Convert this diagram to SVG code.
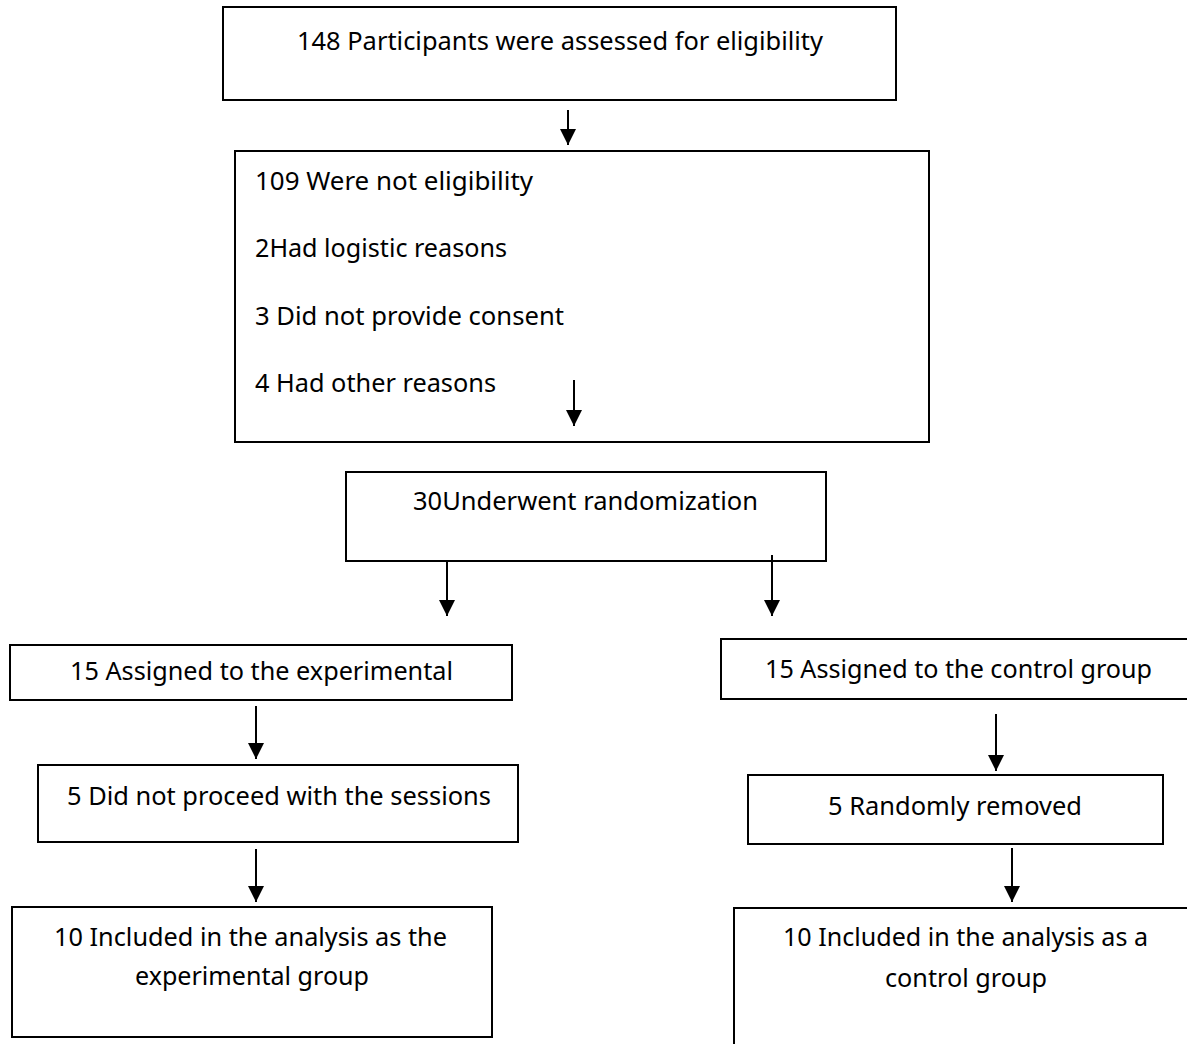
<svg xmlns="http://www.w3.org/2000/svg" width="1187" height="1044" viewBox="0 0 1187 1044">
<style>
.box{fill:#fff;stroke:#000;stroke-width:2}
.t{font-family:"Noto Sans","Open Sans",sans-serif;font-size:25px;fill:#000}
.c{stroke:#000;stroke-width:2;fill:none}
</style>
<defs>
<marker id="ah" markerUnits="userSpaceOnUse" markerWidth="18" markerHeight="18" refX="16" refY="8" orient="auto">
<path d="M0,0 L16,8 L0,16 Z" fill="#000"/>
</marker>
</defs>
<rect width="1187" height="1044" fill="#fff"/>
<g id="n1"><rect class="box" x="223" y="7" width="673" height="93"/>
<text class="t" x="297" y="50" textLength="526" lengthAdjust="spacingAndGlyphs">148 Participants were assessed for eligibility</text></g>
<g id="n2"><rect class="box" x="235" y="151" width="694" height="291"/>
<text class="t" x="255" y="190" textLength="278" lengthAdjust="spacingAndGlyphs">109 Were not eligibility</text>
<text class="t" x="255" y="257" textLength="252" lengthAdjust="spacingAndGlyphs">2Had logistic reasons</text>
<text class="t" x="255" y="325" textLength="309" lengthAdjust="spacingAndGlyphs">3 Did not provide consent</text>
<text class="t" x="255" y="392" textLength="241" lengthAdjust="spacingAndGlyphs">4 Had other reasons</text></g>
<g id="n3"><rect class="box" x="346" y="472" width="480" height="89"/>
<text class="t" x="413" y="510" textLength="345" lengthAdjust="spacingAndGlyphs">30Underwent randomization</text></g>
<g id="n4"><rect class="box" x="10" y="645" width="502" height="55"/>
<text class="t" x="70" y="680" textLength="383" lengthAdjust="spacingAndGlyphs">15 Assigned to the experimental</text></g>
<g id="n5"><rect class="box" x="721" y="639" width="480" height="60"/>
<text class="t" x="765" y="678" textLength="387" lengthAdjust="spacingAndGlyphs">15 Assigned to the control group</text></g>
<g id="n6"><rect class="box" x="38" y="765" width="480" height="77"/>
<text class="t" x="67" y="805" textLength="424" lengthAdjust="spacingAndGlyphs">5 Did not proceed with the sessions</text></g>
<g id="n7"><rect class="box" x="748" y="775" width="415" height="69"/>
<text class="t" x="828" y="815" textLength="254" lengthAdjust="spacingAndGlyphs">5 Randomly removed</text></g>
<g id="n8"><rect class="box" x="12" y="907" width="480" height="130"/>
<text class="t" x="54" y="946" textLength="393" lengthAdjust="spacingAndGlyphs">10 Included in the analysis as the</text>
<text class="t" x="135" y="985" textLength="234" lengthAdjust="spacingAndGlyphs">experimental group</text></g>
<g id="n9"><rect class="box" x="734" y="908" width="480" height="160"/>
<text class="t" x="783" y="946" textLength="365" lengthAdjust="spacingAndGlyphs">10 Included in the analysis as a</text>
<text class="t" x="885" y="987" textLength="162" lengthAdjust="spacingAndGlyphs">control group</text></g>
<g id="connectors">
<line class="c" x1="568" y1="110" x2="568" y2="145" marker-end="url(#ah)"/>
<line class="c" x1="574" y1="380" x2="574" y2="426" marker-end="url(#ah)"/>
<line class="c" x1="447" y1="561" x2="447" y2="616" marker-end="url(#ah)"/>
<line class="c" x1="772" y1="555" x2="772" y2="616" marker-end="url(#ah)"/>
<line class="c" x1="256" y1="706" x2="256" y2="759" marker-end="url(#ah)"/>
<line class="c" x1="996" y1="714" x2="996" y2="771" marker-end="url(#ah)"/>
<line class="c" x1="256" y1="849" x2="256" y2="902" marker-end="url(#ah)"/>
<line class="c" x1="1012" y1="848" x2="1012" y2="902" marker-end="url(#ah)"/>
</g>
</svg>
